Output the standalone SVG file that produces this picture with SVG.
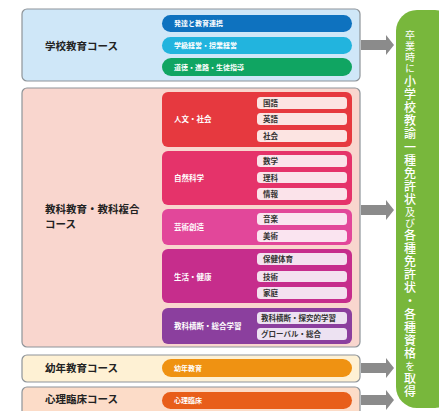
<svg xmlns="http://www.w3.org/2000/svg" width="439" height="411" viewBox="0 0 439 411">
<style>
  .panel { stroke: #8e9499; stroke-width: 1.2; }
  .main { font-family: "Noto Sans CJK JP", "Noto Sans", sans-serif; font-weight: bold; font-size: 10.5px; fill: #222; }
  .pill-t { font-family: "Noto Sans CJK JP", "Noto Sans", sans-serif; font-weight: bold; font-size: 7px; fill: #fff; }
  .grp-t { font-family: "Noto Sans CJK JP", "Noto Sans", sans-serif; font-weight: bold; font-size: 7.5px; fill: #fff; }
  .item-t { font-family: "Noto Sans CJK JP", "Noto Sans", sans-serif; font-weight: bold; font-size: 7.5px; fill: #333; }
  .arrow { fill: #8b8b8b; }
  .vt { font-family: "Noto Sans CJK JP", "Noto Sans", sans-serif; font-weight: 500; fill: #fff; writing-mode: vertical-rl; letter-spacing: 1.2px; }
  .vs { font-size: 10px; font-weight: normal; }
  .vb { font-size: 12px; }
</style>

<g id="result">
  <rect x="396" y="10" width="60" height="398" rx="21" fill="#78b73c"/>
  <text class="vt" x="410" y="30"><tspan class="vs">卒業時に</tspan><tspan class="vb">小学校教諭一種免許状</tspan><tspan class="vs">及び</tspan><tspan class="vb">各種免許状・各種資格</tspan><tspan class="vs">を</tspan><tspan class="vb">取得</tspan></text>
</g>

<g id="course-school">
  <rect class="panel" x="22" y="9" width="338" height="72" rx="5" fill="#cfe7f8"/>
  <text class="main" x="45" y="50">学校教育コース</text>
  <rect x="162" y="15" width="190" height="17" rx="8.5" fill="#0e72bf"/>
  <text class="pill-t" x="174" y="26">発達と教育連携</text>
  <rect x="162" y="37" width="190" height="17" rx="8.5" fill="#22b4de"/>
  <text class="pill-t" x="174" y="48">学級経営・授業経営</text>
  <rect x="162" y="58" width="190" height="18" rx="9" fill="#10a562"/>
  <text class="pill-t" x="174" y="70">道徳・進路・生徒指導</text>
</g>

<g id="course-subject">
  <rect class="panel" x="22" y="88" width="338" height="259" rx="5" fill="#f9d6ce"/>
  <text class="main" x="45" y="213">教科教育・教科複合</text>
  <text class="main" x="45" y="228">コース</text>

  <g id="grp-humanities">
    <rect x="162" y="92" width="190" height="55" rx="6" fill="#e6393f"/>
    <text class="grp-t" x="174" y="122">人文・社会</text>
    <rect x="257" y="97" width="90" height="12" rx="3.5" fill="#fce4e2"/>
    <text class="item-t" x="263" y="106">国語</text>
    <rect x="257" y="113" width="90" height="12" rx="3.5" fill="#fce4e2"/>
    <text class="item-t" x="263" y="122">英語</text>
    <rect x="257" y="130" width="90" height="12" rx="3.5" fill="#fce4e2"/>
    <text class="item-t" x="263" y="139">社会</text>
  </g>

  <g id="grp-science">
    <rect x="162" y="151" width="190" height="54" rx="6" fill="#e5336a"/>
    <text class="grp-t" x="174" y="181">自然科学</text>
    <rect x="257" y="155" width="90" height="12" rx="3.5" fill="#fbe3ea"/>
    <text class="item-t" x="263" y="164">数学</text>
    <rect x="257" y="172" width="90" height="11" rx="3.5" fill="#fbe3ea"/>
    <text class="item-t" x="263" y="180.5">理科</text>
    <rect x="257" y="188" width="90" height="12" rx="3.5" fill="#fbe3ea"/>
    <text class="item-t" x="263" y="197">情報</text>
  </g>

  <g id="grp-arts">
    <rect x="162" y="209" width="190" height="36" rx="6" fill="#e2479a"/>
    <text class="grp-t" x="174" y="230">芸術創造</text>
    <rect x="257" y="213" width="90" height="12" rx="3.5" fill="#fae4f0"/>
    <text class="item-t" x="263" y="222">音楽</text>
    <rect x="257" y="230" width="90" height="12" rx="3.5" fill="#fae4f0"/>
    <text class="item-t" x="263" y="239">美術</text>
  </g>

  <g id="grp-life">
    <rect x="162" y="249" width="190" height="54" rx="6" fill="#c62d8c"/>
    <text class="grp-t" x="174" y="280">生活・健康</text>
    <rect x="257" y="253" width="90" height="12" rx="3.5" fill="#f4e1ef"/>
    <text class="item-t" x="263" y="262">保健体育</text>
    <rect x="257" y="271" width="90" height="11" rx="3.5" fill="#f4e1ef"/>
    <text class="item-t" x="263" y="279.5">技術</text>
    <rect x="257" y="287" width="90" height="12" rx="3.5" fill="#f4e1ef"/>
    <text class="item-t" x="263" y="296">家庭</text>
  </g>

  <g id="grp-cross">
    <rect x="162" y="308" width="190" height="36" rx="6" fill="#8b3f9e"/>
    <text class="grp-t" x="174" y="329">教科横断・総合学習</text>
    <rect x="257" y="312" width="90" height="12" rx="3.5" fill="#ede2f2"/>
    <text class="item-t" x="261" y="321">教科横断・探究的学習</text>
    <rect x="257" y="328" width="90" height="12" rx="3.5" fill="#ede2f2"/>
    <text class="item-t" x="261" y="337">グローバル・総合</text>
  </g>
</g>

<g id="course-early">
  <rect class="panel" x="22" y="355" width="338" height="27" rx="5" fill="#fef1d4"/>
  <text class="main" x="45" y="372">幼年教育コース</text>
  <rect x="162" y="359" width="190" height="18" rx="9" fill="#ef9212"/>
  <text class="pill-t" x="174" y="371">幼年教育</text>
</g>

<g id="course-psych">
  <rect class="panel" x="22" y="387" width="338" height="34" rx="5" fill="#fcdcc8"/>
  <text class="main" x="45" y="403">心理臨床コース</text>
  <rect x="162" y="392" width="190" height="17" rx="8.5" fill="#e85e1a"/>
  <text class="pill-t" x="174" y="403">心理臨床</text>
</g>

<g id="connectors">
  <path class="arrow" d="M361 40 H386 V35 L394 45 L386 55 V50 H361 Z"/>
  <path class="arrow" d="M361 205 H386 V200 L394 210 L386 220 V215 H361 Z"/>
  <path class="arrow" d="M361 363 H386 V358 L394 368 L386 378 V373 H361 Z"/>
  <path class="arrow" d="M361 395 H386 V390 L394 400 L386 410 V405 H361 Z"/>
</g>
</svg>
